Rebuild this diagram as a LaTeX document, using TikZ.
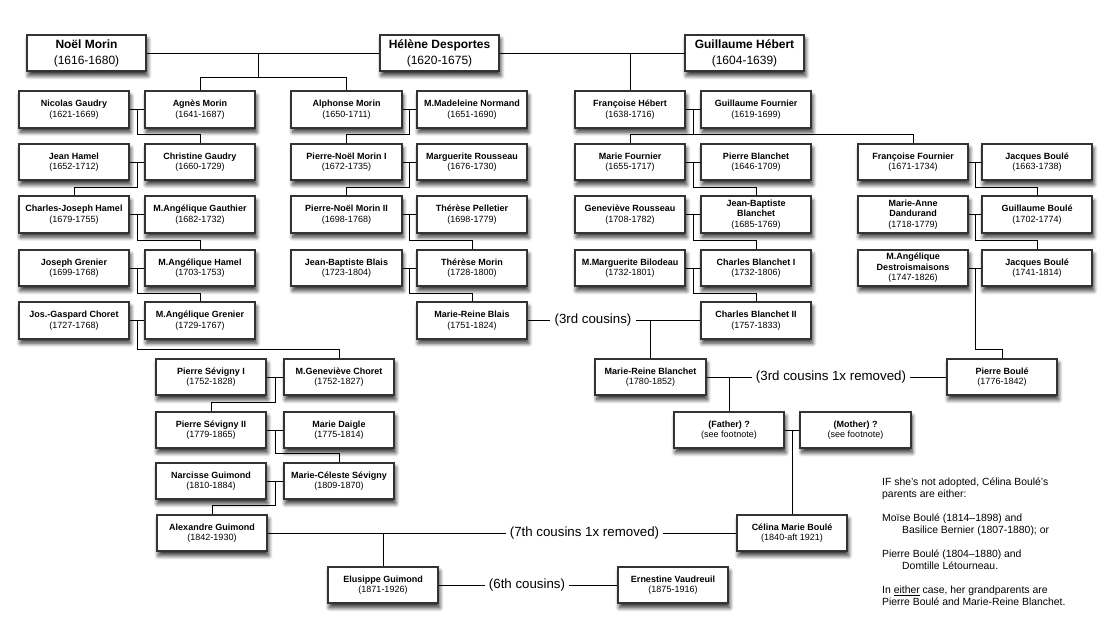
\documentclass[tikz,border=0pt]{standalone}
\usepackage{fontspec}
\setmainfont{Liberation Sans}
\usetikzlibrary{calc,shadows.blur}
\newcommand{\who}[2]{\textbf{#1}\\#2}

\begin{document}
\begin{tikzpicture}[x = 1pt, y = -1pt,
    person/.style = {draw = black!80, line width = 2pt, fill = white, minimum width = 110.5pt, minimum height = 36.5pt,
        inner sep = 1pt, align = center, font = \fontsize{9}{10.5}\selectfont,
        blur shadow = {shadow xshift = 1.5pt, shadow yshift = -4.5pt, shadow blur radius = 4pt,
            shadow blur steps = 8, shadow opacity = 80}},
    founder/.style = {person, minimum width = 119.5pt, font = \fontsize{12}{16}\selectfont},
    kin/.style = {fill = white, inner sep = 4pt, font = \fontsize{13.3}{16}\selectfont},
    link/.style = {line width = 0.9pt}]
            \useasboundingbox (0,0) rectangle (1110,634);
            % first generation
            \node[founder] (noel) at (86.5,53) {\who{Noël Morin}{(1616-1680)}};
            \node[founder] (helene) at (439.5,53) {\who{Hélène Desportes}{(1620-1675)}};
            \node[founder] (ghebert) at (744.5,53) {\who{Guillaume Hébert}{(1604-1639)}};
            % row 1
            \node[person] (nicolas) at (74,109.5) {\who{Nicolas Gaudry}{(1621-1669)}};
            \node[person] (agnes) at (200,109.5) {\who{Agnès Morin}{(1641-1687)}};
            \node[person] (alphonse) at (346.5,109.5) {\who{Alphonse Morin}{(1650-1711)}};
            \node[person] (madeleine) at (472,109.5) {\who{M.Madeleine Normand}{(1651-1690)}};
            \node[person] (fhebert) at (630,109.5) {\who{Françoise Hébert}{(1638-1716)}};
            \node[person] (gfournier) at (756,109.5) {\who{Guillaume Fournier}{(1619-1699)}};
            % row 2
            \node[person] (jeanh) at (74,162) {\who{Jean Hamel}{(1652-1712)}};
            \node[person] (christine) at (200,162) {\who{Christine Gaudry}{(1660-1729)}};
            \node[person] (pnm1) at (346.5,162) {\who{Pierre-Noël Morin I}{(1672-1735)}};
            \node[person] (marguerite) at (472,162) {\who{Marguerite Rousseau}{(1676-1730)}};
            \node[person] (marief) at (630,162) {\who{Marie Fournier}{(1655-1717)}};
            \node[person] (pblanchet) at (756,162) {\who{Pierre Blanchet}{(1646-1709)}};
            \node[person] (ffournier) at (913,162) {\who{Françoise Fournier}{(1671-1734)}};
            \node[person] (jboule1) at (1037,162) {\who{Jacques Boulé}{(1663-1738)}};
            % row 3
            \node[person] (charlesj) at (74,214.5) {\who{Charles-Joseph Hamel}{(1679-1755)}};
            \node[person] (mgauthier) at (200,214.5) {\who{M.Angélique Gauthier}{(1682-1732)}};
            \node[person] (pnm2) at (346.5,214.5) {\who{Pierre-Noël Morin II}{(1698-1768)}};
            \node[person] (pelletier) at (472,214.5) {\who{Thérèse Pelletier}{(1698-1779)}};
            \node[person] (genevieve) at (630,214.5) {\who{Geneviève Rousseau}{(1708-1782)}};
            \node[person] (jbb) at (756,214.5) {\textbf{Jean-Baptiste}\\\who{Blanchet}{(1685-1769)}};
            \node[person] (dandurand) at (913,214.5) {\textbf{Marie-Anne}\\\who{Dandurand}{(1718-1779)}};
            \node[person] (gboule) at (1037,214.5) {\who{Guillaume Boulé}{(1702-1774)}};
            % row 4
            \node[person] (joseph) at (74,268) {\who{Joseph Grenier}{(1699-1768)}};
            \node[person] (mhamel) at (200,268) {\who{M.Angélique Hamel}{(1703-1753)}};
            \node[person] (jbblais) at (346.5,268) {\who{Jean-Baptiste Blais}{(1723-1804)}};
            \node[person] (tmorin) at (472,268) {\who{Thérèse Morin}{(1728-1800)}};
            \node[person] (bilodeau) at (630,268) {\who{M.Marguerite Bilodeau}{(1732-1801)}};
            \node[person] (cb1) at (756,268) {\who{Charles Blanchet I}{(1732-1806)}};
            \node[person] (destrois) at (913,268) {\textbf{M.Angélique}\\\who{Destroismaisons}{(1747-1826)}};
            \node[person] (jboule2) at (1037,268) {\who{Jacques Boulé}{(1741-1814)}};
            % row 5
            \node[person] (josg) at (74,320.5) {\who{Jos.-Gaspard Choret}{(1727-1768)}};
            \node[person] (mgrenier) at (200,320.5) {\who{M.Angélique Grenier}{(1729-1767)}};
            \node[person] (mrblais) at (472,320.5) {\who{Marie-Reine Blais}{(1751-1824)}};
            \node[person] (cb2) at (756,320.5) {\who{Charles Blanchet II}{(1757-1833)}};
            % row 6
            \node[person] (ps1) at (211,377) {\who{Pierre Sévigny I}{(1752-1828)}};
            \node[person] (mgchoret) at (339,377) {\who{M.Geneviève Choret}{(1752-1827)}};
            \node[person] (mrblanchet) at (650.5,377) {\who{Marie-Reine Blanchet}{(1780-1852)}};
            \node[person] (pboule) at (1002,377) {\who{Pierre Boulé}{(1776-1842)}};
            % row 7
            \node[person] (ps2) at (211,430) {\who{Pierre Sévigny II}{(1779-1865)}};
            \node[person] (daigle) at (339,430) {\who{Marie Daigle}{(1775-1814)}};
            \node[person] (father) at (729,430) {\who{(Father) ?}{(see footnote)}};
            \node[person] (mother) at (855.5,430) {\who{(Mother) ?}{(see footnote)}};
            % row 8
            \node[person] (narcisse) at (211,481) {\who{Narcisse Guimond}{(1810-1884)}};
            \node[person] (mceleste) at (339,481) {\who{Marie-Céleste Sévigny}{(1809-1870)}};
            % row 9 and 10
            \node[person] (alex) at (212,533) {\who{Alexandre Guimond}{(1842-1930)}};
            \node[person] (celina) at (792,533) {\who{Célina Marie Boulé}{(1840-aft 1921)}};
            \node[person] (elusippe) at (383,585) {\who{Elusippe Guimond}{(1871-1926)}};
            \node[person] (ernestine) at (673,585) {\who{Ernestine Vaudreuil}{(1875-1916)}};
            % cousin labels
            \node[kin] (c3) at (593,320.5) {(3rd cousins)};
            \node[kin] (c3r) at (831,377) {(3rd cousins 1x removed)};
            \node[kin] (c7r) at (584.5,533) {(7th cousins 1x removed)};
            \node[kin] (c6) at (527,585) {(6th cousins)};
            % marriages and descent
            \draw[link] (noel) -- (helene) -- (ghebert);
            \coordinate (nh) at ($(noel.east)!.48!(helene.west)$);
            \draw[link] (nh) |- ([yshift = 13pt]agnes.north) -- (agnes.north);
            \draw[link] (nh) |- ([yshift = 13pt]alphonse.north) -- (alphonse.north);
            \draw[link] (fhebert.north) -- (fhebert.north |- helene.east);
            \coordinate (fg) at ($(fhebert.east)!.5!(gfournier.west)$);
            \draw[link] (fhebert) -- (gfournier);
            \draw[link] (fg) |- ([yshift = 8pt]marief.north) -- (marief.north);
            \draw[link] (fg) |- ([yshift = 8pt]ffournier.north) -- (ffournier.north);
            \foreach \a/\b/\c in {nicolas/agnes/christine, jeanh/christine/charlesj, charlesj/mgauthier/mhamel,
                joseph/mhamel/mgrenier, josg/mgrenier/mgchoret, ps1/mgchoret/ps2, ps2/daigle/mceleste,
                narcisse/mceleste/alex, alphonse/madeleine/pnm1, pnm1/marguerite/pnm2, pnm2/pelletier/tmorin,
                jbblais/tmorin/mrblais, marief/pblanchet/jbb, genevieve/jbb/cb1, bilodeau/cb1/cb2,
                ffournier/jboule1/gboule, dandurand/gboule/jboule2, destrois/jboule2/pboule, father/mother/celina}
                \draw[link] (\a) -- (\b) ($(\a.east)!.5!(\b.west)$) |- ([yshift = 8pt]\c.north) -- (\c.north);
            % cousins
            \draw[link] (mrblais) -- (c3) -- (cb2);
            \draw[link] (mrblanchet.north) -- (mrblanchet.north |- cb2.west);
            \draw[link] (mrblanchet) -- (c3r) -- (pboule);
            \draw[link] (father.north) -- (father.north |- mrblanchet.east);
            \draw[link] (alex) -- (c7r) -- (celina);
            \draw[link] (elusippe.north) -- (elusippe.north |- alex.east);
            \draw[link] (elusippe) -- (c6) -- (ernestine);
            % footnote
            \node[anchor = north west, align = left, inner sep = 0pt, font = \fontsize{10.4}{12}\selectfont] (note) at (882,478)
                {IF she's not adopted, Célina Boulé's\\ parents are either:\\[12pt]
                 Moïse Boulé (1814–1898) and\\ \hspace*{20pt}Basilice Bernier (1807-1880); or\\[12pt]
                 Pierre Boulé (1804–1880) and\\ \hspace*{20pt}Domtille Létourneau.\\[12pt]
                 In \underline{either} case, her grandparents are\\ Pierre Boulé and Marie-Reine Blanchet.};
        \end{tikzpicture}
\end{document}
